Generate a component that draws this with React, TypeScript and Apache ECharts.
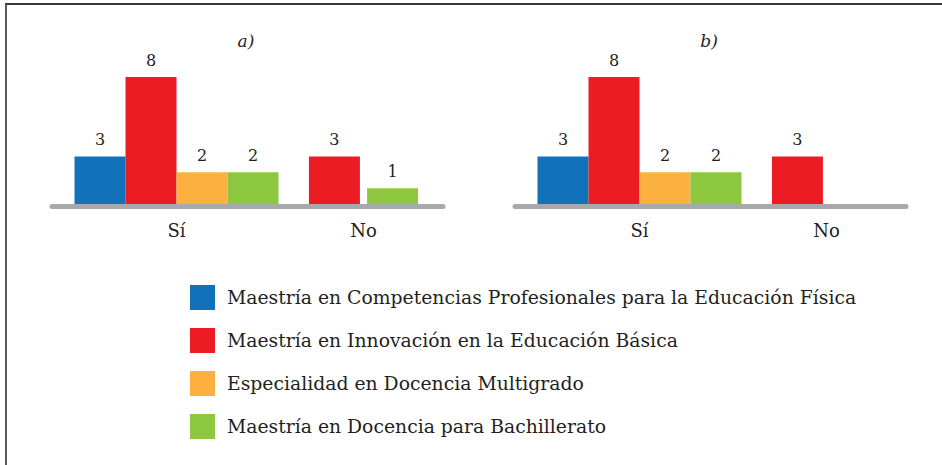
import React, { useEffect, useRef } from "react";
import * as echarts from "echarts";

// Programs (legend entries) and their colours
const programs = [
  "Maestría en Competencias Profesionales para la Educación Física",
  "Maestría en Innovación en la Educación Básica",
  "Especialidad en Docencia Multigrado",
  "Maestría en Docencia para Bachillerato",
];
const programColors = ["#1172ba", "#ed1c24", "#fbb040", "#8dc63f"];

// Answer categories shared by both panels
const categories = ["Sí", "No"];
const panelTitles = ["a)", "b)"];

// Panel a) counts per program
const siA: (number | null)[] = [3, 8, 2, 2];
const noA: (number | null)[] = [null, 3, null, 1];

// Panel b) counts per program
const siB: (number | null)[] = [3, 8, 2, 2];
const noB: (number | null)[] = [null, 3, null, null];

const FONT = "DejaVu Serif";
const TEXT = "#231f20";

export default function App() {
  const ref = useRef<HTMLDivElement>(null);

  useEffect(() => {
    if (!ref.current) return;
    const chart = echarts.init(ref.current, undefined, { renderer: "svg" });

    const panels = [
      { si: siA, no: noA },
      { si: siB, no: noB },
    ];
    // programs that take part in the "No" group in any panel
    const noPrograms = programs
      .map((_, i) => i)
      .filter((i) => noA[i] != null || noB[i] != null);

    const panelOffset = 463;
    const barGrids = panels.map((_, p) => ({
      left: 83 + p * panelOffset,
      width: 374,
      top: 77,
      height: 127,
    }));
    const baseGrids = panels.map((_, p) => ({
      left: 52 + p * panelOffset,
      width: 391,
      top: 150,
      height: 56.5,
    }));

    const xAxis: any[] = [];
    const yAxis: any[] = [];
    panels.forEach((_, p) => {
      xAxis.push({
        gridIndex: p,
        type: "category",
        data: categories,
        axisLine: { show: false },
        axisTick: { show: false },
        axisLabel: { margin: 17, fontSize: 18, color: TEXT, fontFamily: FONT },
      });
      xAxis.push({ gridIndex: p, type: "category", data: categories, show: false });
      yAxis.push({ gridIndex: p, type: "value", min: 0, max: 8, show: false });
    });
    panels.forEach((_, p) => {
      xAxis.push({
        gridIndex: 2 + p,
        type: "value",
        axisLine: { show: true, onZero: false, lineStyle: { color: "#a7a9ac", width: 5 } },
        axisTick: { show: false },
        axisLabel: { show: false },
        splitLine: { show: false },
      });
      yAxis.push({ gridIndex: 2 + p, type: "value", show: false });
    });

    const label = {
      show: true,
      position: "top",
      distance: 9,
      fontSize: 16,
      color: TEXT,
      fontFamily: FONT,
    };

    const series: any[] = [];
    panels.forEach((panel, p) => {
      programs.forEach((name, i) => {
        series.push({
          type: "bar",
          name,
          xAxisIndex: p * 2,
          yAxisIndex: p,
          data: [panel.si[i], null],
          barWidth: 51,
          barGap: "0%",
          clip: false,
          itemStyle: { color: programColors[i] },
          label,
        });
      });
      noPrograms.forEach((i) => {
        series.push({
          type: "bar",
          name: programs[i],
          xAxisIndex: p * 2 + 1,
          yAxisIndex: p,
          data: [null, panel.no[i]],
          barWidth: 51,
          barGap: "14%",
          clip: false,
          itemStyle: { color: programColors[i] },
          label,
        });
      });
    });

    chart.setOption({
      animation: false,
      backgroundColor: "#ffffff",
      grid: [...barGrids, ...baseGrids],
      xAxis,
      yAxis,
      series,
      legend: {
        data: programs,
        orient: "vertical",
        left: 190,
        top: 285,
        padding: 0,
        itemWidth: 25,
        itemHeight: 25,
        itemGap: 18,
        icon: "rect",
        selectedMode: false,
        textStyle: {
          fontSize: 18.8,
          lineHeight: 25,
          color: TEXT,
          fontFamily: FONT,
          padding: [0, 0, 0, 7],
        },
      },
      graphic: panelTitles.map((t, p) => ({
        type: "text",
        x: 246 + p * panelOffset,
        y: 41,
        style: {
          text: t,
          fontSize: 17,
          fontStyle: "italic",
          fontFamily: FONT,
          fill: TEXT,
          textAlign: "center",
          textVerticalAlign: "middle",
        },
      })),
    });

    return () => chart.dispose();
  }, []);

  return (
    <div
      style={{
        position: "fixed",
        left: 0,
        top: 0,
        width: 942,
        height: 465,
        background: "#ffffff",
        overflow: "hidden",
      }}
    >
      <div ref={ref} style={{ position: "absolute", left: 0, top: 0, width: 942, height: 465 }} />
      <div
        style={{
          position: "absolute",
          left: 5,
          top: 3,
          width: 960,
          height: 480,
          borderTop: "2px solid #3a3a3a",
          borderLeft: "2px solid #5a5a5a",
          pointerEvents: "none",
        }}
      />
    </div>
  );
}
